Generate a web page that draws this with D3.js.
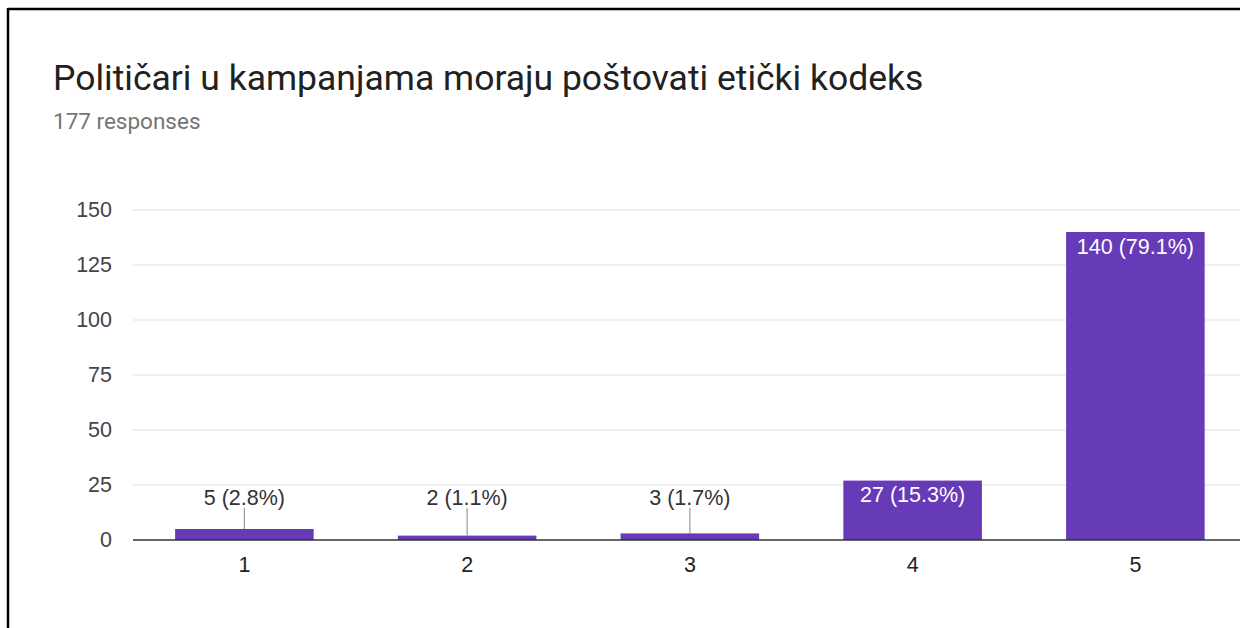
<!DOCTYPE html>
<html><head><meta charset="utf-8">
<script src="https://cdn.jsdelivr.net/npm/d3@7"></script>
<style>
html,body{margin:0;padding:0;background:#fff;}
svg{display:block;font-family:"Liberation Sans", Arial, sans-serif;}
</style></head>
<body>
<svg id="c" width="1240" height="628"></svg>
<script>
const categories = ["1","2","3","4","5"];
const counts = [5, 2, 3, 27, 140];
const percents = ["2.8%","1.1%","1.7%","15.3%","79.1%"];
const yTicks = [0, 25, 50, 75, 100, 125, 150];
const title = "Političari u kampanjama moraju poštovati etički kodeks";
const subtitle = "177 responses";

const FONT = '"Liberation Sans", Arial, sans-serif';
const svg = d3.select("#c");
// frame borders
svg.append("line").attr("x1",8).attr("x2",1240).attr("y1",9).attr("y2",9).attr("stroke","#000").attr("stroke-width",2.5);
svg.append("line").attr("x1",8).attr("x2",8).attr("y1",8).attr("y2",628).attr("stroke","#000").attr("stroke-width",2.5);

svg.append("text").attr("x",53).attr("y",90).attr("font-size",35.5)
  .attr("font-family","Roboto, Arial, sans-serif").attr("fill","#212121").text(title);
svg.append("text").attr("x",53).attr("y",129).attr("font-size",22.5)
  .attr("font-family","Roboto, Arial, sans-serif").attr("fill","#757575").text(subtitle);

const left = 133, zeroY = 540, topY = 210;
const x = d3.scaleBand().domain(categories).range([left, left + 5*222.75]).paddingInner(0.378).paddingOuter(0.189);
const y = d3.scaleLinear().domain([0,150]).range([zeroY, topY]);

const g = svg.append("g");
// gridlines
g.selectAll("line.grid").data(yTicks.filter(d=>d>0)).join("line")
  .attr("x1",left).attr("x2",1240).attr("y1",d=>y(d)).attr("y2",d=>y(d))
  .attr("stroke","#ebebeb").attr("stroke-width",1.5);

// y axis
const yAxis = g.append("g").attr("transform",`translate(${left},0)`)
  .call(d3.axisLeft(y).tickValues(yTicks).tickSize(0).tickPadding(21));
yAxis.select(".domain").remove();
yAxis.selectAll("text").attr("font-size",21.5).attr("fill","#444").attr("font-family",FONT);

const data = categories.map((c,i)=>({c, v:counts[i], p:percents[i]}));

g.selectAll("rect.bar").data(data).join("rect")
  .attr("x",d=>x(d.c)).attr("width",x.bandwidth())
  .attr("y",d=>y(d.v)).attr("height",d=>zeroY-y(d.v))
  .attr("fill","#673ab7");

// zero line
g.append("line").attr("x1",left).attr("x2",1240).attr("y1",zeroY).attr("y2",zeroY).attr("stroke","#333").attr("stroke-width",1.5);

// x axis
const xAxis = g.append("g").attr("transform",`translate(0,${zeroY})`)
  .call(d3.axisBottom(x).tickSize(0).tickPadding(16.5));
xAxis.select(".domain").remove();
xAxis.selectAll("text").attr("font-size",21.5).attr("fill","#222").attr("font-family",FONT);

// labels
data.forEach(d=>{
  const cx = x(d.c) + x.bandwidth()/2;
  const inside = (zeroY - y(d.v)) > 30;
  if (inside) {
    g.append("text").attr("x",cx).attr("y",y(d.v)+21.5).attr("text-anchor","middle")
      .attr("font-size",21.5).attr("font-family",FONT).attr("fill","#fff").text(`${d.v} (${d.p})`);
  } else {
    g.append("line").attr("x1",cx).attr("x2",cx).attr("y1",508).attr("y2",y(d.v))
      .attr("stroke","#999").attr("stroke-width",1.2);
    g.append("text").attr("x",cx).attr("y",505).attr("text-anchor","middle")
      .attr("font-size",21.5).attr("font-family",FONT).attr("fill","#333").text(`${d.v} (${d.p})`);
  }
});
</script>
</body></html>
